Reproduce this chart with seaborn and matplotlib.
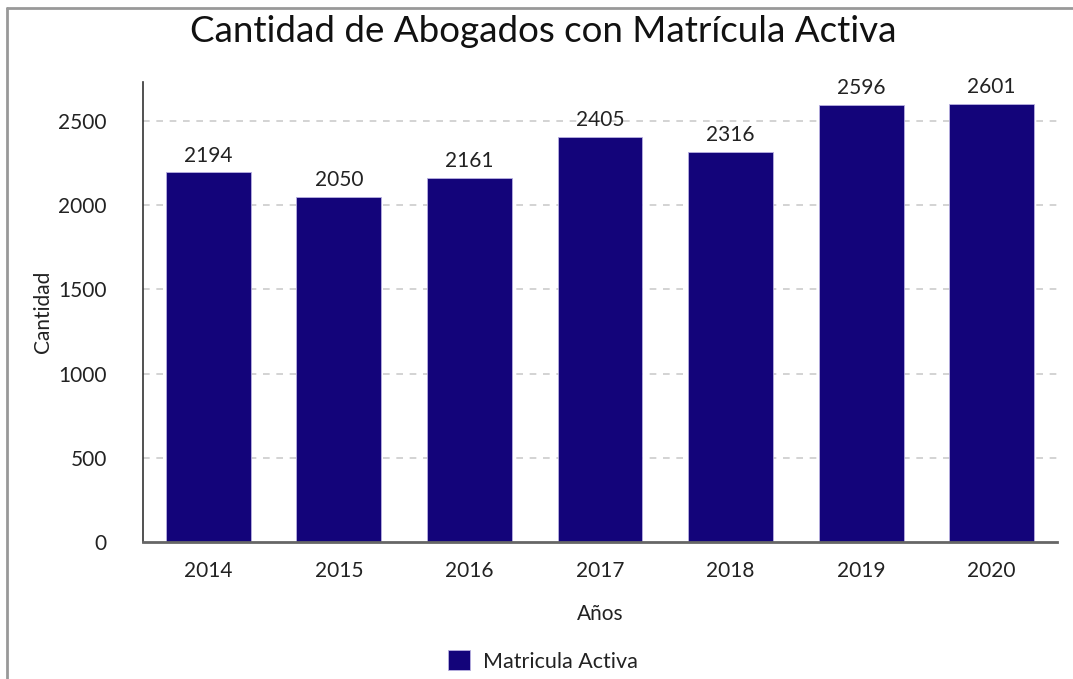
import matplotlib
matplotlib.use("Agg")
import matplotlib.pyplot as plt
import seaborn as sns
import pandas as pd
from matplotlib.lines import Line2D

years = ["2014", "2015", "2016", "2017", "2018", "2019", "2020"]
counts = [2194, 2050, 2161, 2405, 2316, 2596, 2601]
series_name = "Matricula Activa"
title = "Cantidad de Abogados con Matrícula Activa"
yticks = [0, 500, 1000, 1500, 2000, 2500]

df = pd.DataFrame({"Años": years, "Cantidad": counts, "Serie": [series_name] * len(years)})

sns.set_theme(style="white")
plt.rcParams["font.family"] = ["Lato", "DejaVu Sans"]

bar_color = "#13047a"
text_color = "#222222"

fig = plt.figure(figsize=(10.73, 6.79), dpi=100)
ax = fig.add_axes([143 / 1073, 1 - 542 / 679, (1057 - 143) / 1073, (542 - 82) / 679])

sns.barplot(data=df, x="Años", y="Cantidad", hue="Serie", palette=[bar_color],
            width=0.65, ax=ax, edgecolor="#b8b0e0", linewidth=0.6, legend=True, saturation=1)

ax.set_xlim(-0.5, 6.5)
ax.set_ylim(0, 2731)
ax.set_yticks(yticks)
ax.set_yticklabels([str(v) for v in yticks])
for y in yticks[1:]:
    ax.axhline(y, color="#cccccc", linestyle=(0, (4, 4)), linewidth=1.2, zorder=0)

for c in ax.containers:
    ax.bar_label(c, labels=[str(v) for v in counts], padding=5, fontsize=15, color=text_color)

ax.tick_params(axis="both", length=0, labelsize=15, colors=text_color)
ax.tick_params(axis="y", pad=26)
ax.tick_params(axis="x", pad=14)
ax.set_xlabel("Años", fontsize=15, color=text_color, labelpad=16)
ax.set_ylabel("Cantidad", fontsize=15, color=text_color, labelpad=4)

for s in ["top", "right"]:
    ax.spines[s].set_visible(False)
ax.spines["left"].set_color("#333333")
ax.spines["left"].set_linewidth(1.2)
ax.spines["bottom"].set_color("#666666")
ax.spines["bottom"].set_linewidth(2)

leg = ax.get_legend()
if leg is not None:
    leg.remove()
handles = [plt.Rectangle((0, 0), 1, 1, facecolor=bar_color, edgecolor="#b8b0e0", linewidth=0.6)]
fig.legend(handles, [series_name], loc="center", bbox_to_anchor=(543 / 1073, 1 - 661 / 679),
           frameon=False, fontsize=15.5, handlelength=1.0, handleheight=1.0, handletextpad=0.6,
           labelcolor=text_color)

fig.suptitle(title, x=543 / 1073, y=1 - 31 / 679, va="center", fontsize=26.5, color="#111111")

fig.add_artist(Line2D([7 / 1073, 7 / 1073], [0, 1 - 8 / 679], transform=fig.transFigure,
                      color="#999999", linewidth=2))
fig.add_artist(Line2D([7 / 1073, 1], [1 - 8 / 679, 1 - 8 / 679], transform=fig.transFigure,
                      color="#999999", linewidth=2))

fig.savefig("out.png", dpi=100)
